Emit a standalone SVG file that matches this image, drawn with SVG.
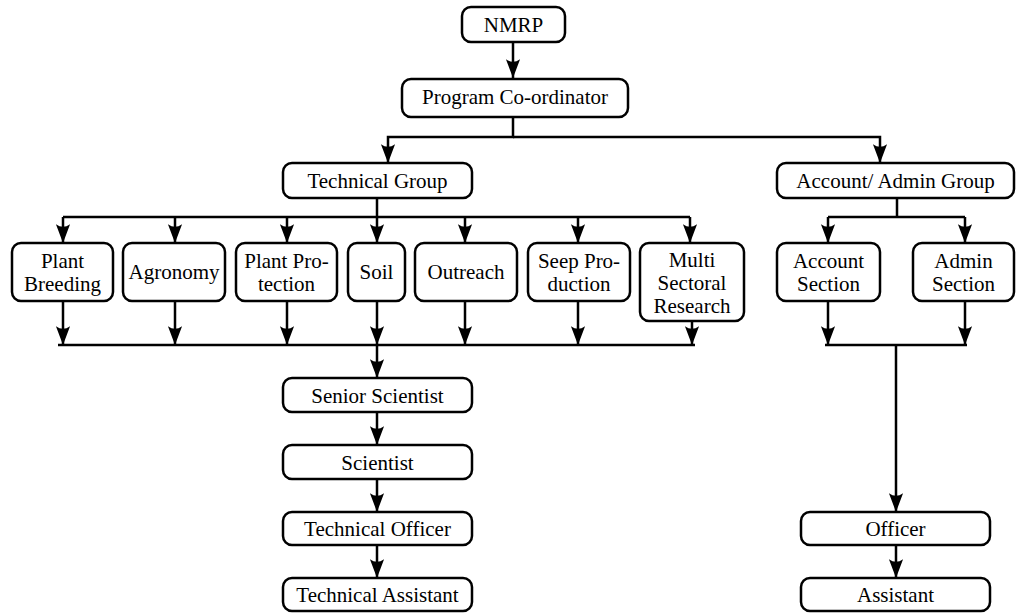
<svg xmlns="http://www.w3.org/2000/svg" width="1016" height="613" viewBox="0 0 1016 613">
<style>
.box{fill:#fff;stroke:#000;stroke-width:2.5}
.t{font-family:'Liberation Serif','DejaVu Serif',serif;font-size:21px;fill:#000;text-anchor:middle}
.c{fill:none;stroke:#000;stroke-width:2.5}
.a{marker-end:url(#ah)}
</style>
<defs>
<marker id="ah" markerUnits="userSpaceOnUse" markerWidth="20" markerHeight="20" viewBox="-16 -8 17 16" refX="0" refY="0" orient="auto" overflow="visible">
<path d="M0,0 L-16,-6 Q-11.5,0 -16,6 Z" fill="#000"/>
</marker>
</defs>
<g id="connectors">
<path class="c a" d="M513,42 V78"/>
<path class="c a" d="M513,118 V137 H388 V163"/>
<path class="c a" d="M513,137 H880 V163"/>
<path class="c" d="M377,198 V217 M63,217 H690"/>
<path class="c a" d="M63,217 V243"/>
<path class="c a" d="M175,217 V243"/>
<path class="c a" d="M287,217 V243"/>
<path class="c a" d="M377,217 V243"/>
<path class="c a" d="M465,217 V243"/>
<path class="c a" d="M578,217 V243"/>
<path class="c a" d="M690,217 V243"/>
<path class="c a" d="M63,301 V345"/>
<path class="c a" d="M175,301 V345"/>
<path class="c a" d="M287,301 V345"/>
<path class="c a" d="M377,301 V345"/>
<path class="c a" d="M465,301 V345"/>
<path class="c a" d="M578,301 V345"/>
<path class="c a" d="M692,321 V345"/>
<path class="c" d="M58,345 H695"/>
<path class="c a" d="M377,345 V378"/>
<path class="c a" d="M377,412 V445"/>
<path class="c a" d="M377,479 V512"/>
<path class="c a" d="M377,545 V578"/>
<path class="c" d="M897,198 V217 M828,217 H965"/>
<path class="c a" d="M828,217 V243"/>
<path class="c a" d="M965,217 V243"/>
<path class="c a" d="M828,301 V345"/>
<path class="c a" d="M965,301 V345"/>
<path class="c" d="M825,345 H967"/>
<path class="c a" d="M896,345 V512"/>
<path class="c a" d="M896,545 V578"/>
</g>
<g id="nmrp"><rect class="box" x="462" y="7" width="103" height="35" rx="9"/><text class="t" x="513.5" y="32">NMRP</text></g>
<g id="coordinator"><rect class="box" x="402" y="79" width="226" height="38" rx="9"/><text class="t" x="515" y="104">Program Co-ordinator</text></g>
<g id="technical-group"><rect class="box" x="283" y="163" width="189" height="35" rx="9"/><text class="t" x="377.5" y="188">Technical Group</text></g>
<g id="account-admin-group"><rect class="box" x="777" y="163" width="237" height="35" rx="9"/><text class="t" x="895.5" y="188">Account/ Admin Group</text></g>
<g id="plant-breeding"><rect class="box" x="12" y="243" width="101" height="58" rx="9"/><text class="t" x="62.5" y="268">Plant</text><text class="t" x="62.5" y="291">Breeding</text></g>
<g id="agronomy"><rect class="box" x="123" y="243" width="102" height="58" rx="9"/><text class="t" x="174" y="279">Agronomy</text></g>
<g id="plant-protection"><rect class="box" x="236" y="243" width="101" height="58" rx="9"/><text class="t" x="286.5" y="268">Plant Pro-</text><text class="t" x="286.5" y="291">tection</text></g>
<g id="soil"><rect class="box" x="348" y="243" width="57" height="58" rx="9"/><text class="t" x="376.5" y="279">Soil</text></g>
<g id="outreach"><rect class="box" x="415" y="243" width="102" height="58" rx="9"/><text class="t" x="466" y="279">Outreach</text></g>
<g id="seep-production"><rect class="box" x="528" y="243" width="102" height="58" rx="9"/><text class="t" x="579" y="268">Seep Pro-</text><text class="t" x="579" y="291">duction</text></g>
<g id="multi-sectoral"><rect class="box" x="640" y="243" width="104" height="78" rx="9"/><text class="t" x="692" y="267">Multi</text><text class="t" x="692" y="290">Sectoral</text><text class="t" x="692" y="313">Research</text></g>
<g id="account-section"><rect class="box" x="777" y="243" width="103" height="58" rx="9"/><text class="t" x="828.5" y="268">Account</text><text class="t" x="828.5" y="291">Section</text></g>
<g id="admin-section"><rect class="box" x="913" y="243" width="101" height="58" rx="9"/><text class="t" x="963.5" y="268">Admin</text><text class="t" x="963.5" y="291">Section</text></g>
<g id="senior-scientist"><rect class="box" x="283" y="378" width="189" height="34" rx="9"/><text class="t" x="377.5" y="402.5">Senior Scientist</text></g>
<g id="scientist"><rect class="box" x="283" y="445" width="189" height="34" rx="9"/><text class="t" x="377.5" y="469.5">Scientist</text></g>
<g id="technical-officer"><rect class="box" x="283" y="512" width="189" height="33" rx="9"/><text class="t" x="377.5" y="536">Technical Officer</text></g>
<g id="technical-assistant"><rect class="box" x="283" y="578" width="189" height="33" rx="9"/><text class="t" x="377.5" y="602">Technical Assistant</text></g>
<g id="officer"><rect class="box" x="801" y="512" width="189" height="33" rx="9"/><text class="t" x="895.5" y="536">Officer</text></g>
<g id="assistant"><rect class="box" x="801" y="578" width="189" height="33" rx="9"/><text class="t" x="895.5" y="602">Assistant</text></g>
</svg>
